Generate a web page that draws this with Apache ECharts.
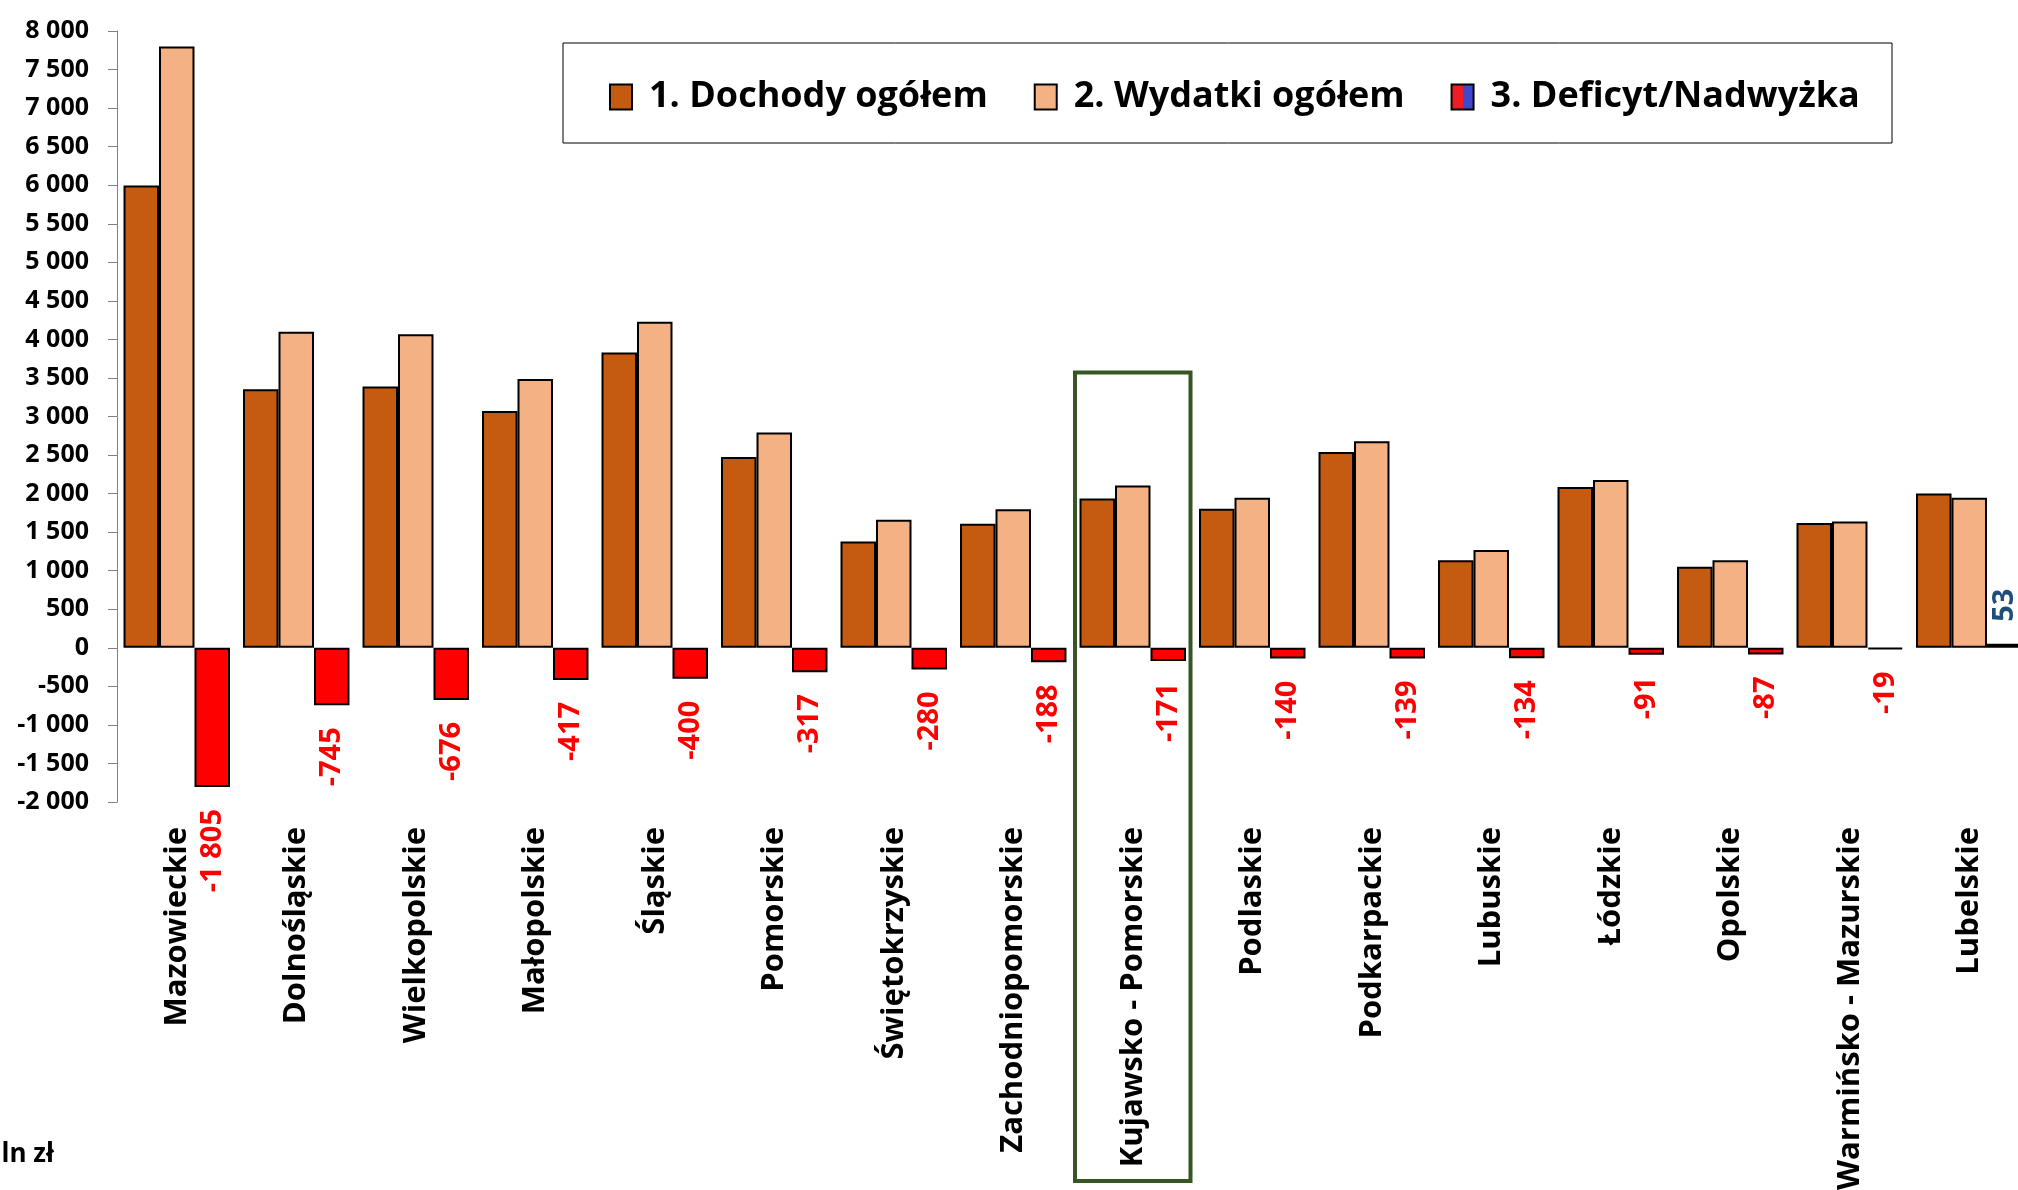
<!DOCTYPE html>
<html>
<head>
<meta charset="utf-8">
<script src="https://cdn.jsdelivr.net/npm/echarts@6/dist/echarts.min.js"></script>
<style>
  html, body { margin: 0; padding: 0; background: #fff; }
  #chart { width: 2018px; height: 1190px; }
</style>
</head>
<body>
<div id="chart"></div>
<script>
// województwa
var regions = ['Mazowieckie', 'Dolnośląskie', 'Wielkopolskie', 'Małopolskie', 'Śląskie', 'Pomorskie',
  'Świętokrzyskie', 'Zachodniopomorskie', 'Kujawsko - Pomorskie', 'Podlaskie', 'Podkarpackie',
  'Lubuskie', 'Łódzkie', 'Opolskie', 'Warmińsko - Mazurskie', 'Lubelskie']
var dochody = [5995, 3355, 3390, 3070, 3830, 2475, 1380, 1610, 1935, 1805, 2540, 1135, 2085, 1050, 1620, 2000]
var wydatki = [7800, 4100, 4066, 3487, 4230, 2792, 1660, 1798, 2106, 1945, 2679, 1269, 2176, 1137, 1639, 1947]
var deficyt = [-1805, -745, -676, -417, -400, -317, -280, -188, -171, -140, -139, -134, -91, -87, -19, 53]
var seriesNames = ['1. Dochody ogółem', '2. Wydatki ogółem', '3. Deficyt/Nadwyżka']
var highlightIndex = 8
var highlightTop = 3570

var FONT = "'Open Sans', 'Noto Sans', sans-serif"

function fmt(v) {
  var s = v < 0 ? '-' : ''
  var a = Math.abs(v)
  if (a >= 1000) {
    var r = String(a % 1000)
    while (r.length < 3) r = '0' + r
    return s + Math.floor(a / 1000) + ' ' + r
  }
  return s + a
}

var chart = echarts.init(document.getElementById('chart'))

var deficytData = deficyt.map(function (v) {
  var neg = v < 0
  return {
    value: v,
    itemStyle: { color: neg ? '#ff0000' : '#1f4e79' },
    label: {
      position: neg ? 'bottom' : 'top',
      align: neg ? 'right' : 'left',
      color: neg ? '#ff0000' : '#1f4e79'
    }
  }
})

var option = {
  animation: false,
  backgroundColor: '#fff',
  textStyle: { fontFamily: FONT },
  grid: { left: 117, top: 31, right: -11, height: 771, outerBoundsMode: 'none', containLabel: false },
  legend: {
    left: 604,
    top: 74,
    icon: 'rect',
    itemWidth: 22,
    itemHeight: 25,
    itemGap: 46,
    data: seriesNames,
    textStyle: { fontSize: 36, fontWeight: 'bold', color: '#000', fontFamily: FONT, padding: [0, 0, 0, 12] }
  },
  xAxis: {
    type: 'category',
    data: regions,
    position: 'bottom',
    axisLine: { show: false },
    axisTick: { show: false },
    axisLabel: {
      rotate: 90,
      margin: 25,
      interval: 0,
      fontSize: 31,
      fontWeight: 'bold',
      color: '#000',
      fontFamily: FONT
    }
  },
  yAxis: {
    type: 'value',
    min: -2000,
    max: 8000,
    interval: 500,
    splitLine: { show: false },
    axisLine: { show: true, lineStyle: { color: '#808080', width: 1 } },
    axisTick: { show: true, length: 9, lineStyle: { color: '#808080' } },
    axisLabel: {
      margin: 28,
      fontSize: 25,
      fontWeight: 'bold',
      color: '#000',
      fontFamily: FONT,
      formatter: fmt
    }
  },
  series: [
    {
      name: seriesNames[0],
      type: 'bar',
      barGap: '0%',
      barCategoryGap: '10.9%',
      data: dochody,
      itemStyle: { color: '#c55a11', borderColor: '#000', borderWidth: 2 }
    },
    {
      name: seriesNames[1],
      type: 'bar',
      data: wydatki,
      itemStyle: { color: '#f4b183', borderColor: '#000', borderWidth: 2 }
    },
    {
      name: seriesNames[2],
      type: 'bar',
      data: deficytData,
      itemStyle: {
        color: {
          type: 'linear', x: 0, y: 0, x2: 1, y2: 0,
          colorStops: [
            { offset: 0, color: '#ee1c25' }, { offset: 0.5, color: '#ee1c25' },
            { offset: 0.5, color: '#3f48cc' }, { offset: 1, color: '#3f48cc' }
          ]
        },
        borderColor: '#000',
        borderWidth: 2
      },
      label: {
        show: true,
        rotate: 90,
        distance: 22,
        verticalAlign: 'middle',
        fontSize: 29,
        fontWeight: 'bold',
        fontFamily: FONT,
        formatter: function (p) { return fmt(p.value) }
      }
    }
  ],
  graphic: [
    {
      id: 'legendBox',
      type: 'rect',
      shape: { x: 563, y: 43, width: 1329, height: 100 },
      style: { fill: 'none', stroke: '#000', lineWidth: 1 },
      z: 0
    },
    {
      id: 'unit',
      type: 'text',
      left: -24,
      top: 1142,
      style: { text: 'mln zł', fontSize: 26, fontWeight: 'bold', fill: '#000', fontFamily: FONT }
    }
  ]
}

chart.setOption(option)

// zielona ramka wokół wyróżnionego województwa
var c0 = chart.convertToPixel({ xAxisIndex: 0 }, highlightIndex)
var c1 = chart.convertToPixel({ xAxisIndex: 0 }, highlightIndex + 1)
var band = c1 - c0
var yTop = chart.convertToPixel({ yAxisIndex: 0 }, highlightTop)
chart.setOption({
  graphic: [
    {
      id: 'highlight',
      type: 'rect',
      shape: { x: c0 - band / 2 + 2, y: yTop, width: band - 4, height: 1181 - yTop },
      style: { fill: 'none', stroke: '#375623', lineWidth: 4 },
      z: 10
    }
  ]
})
</script>
</body>
</html>
